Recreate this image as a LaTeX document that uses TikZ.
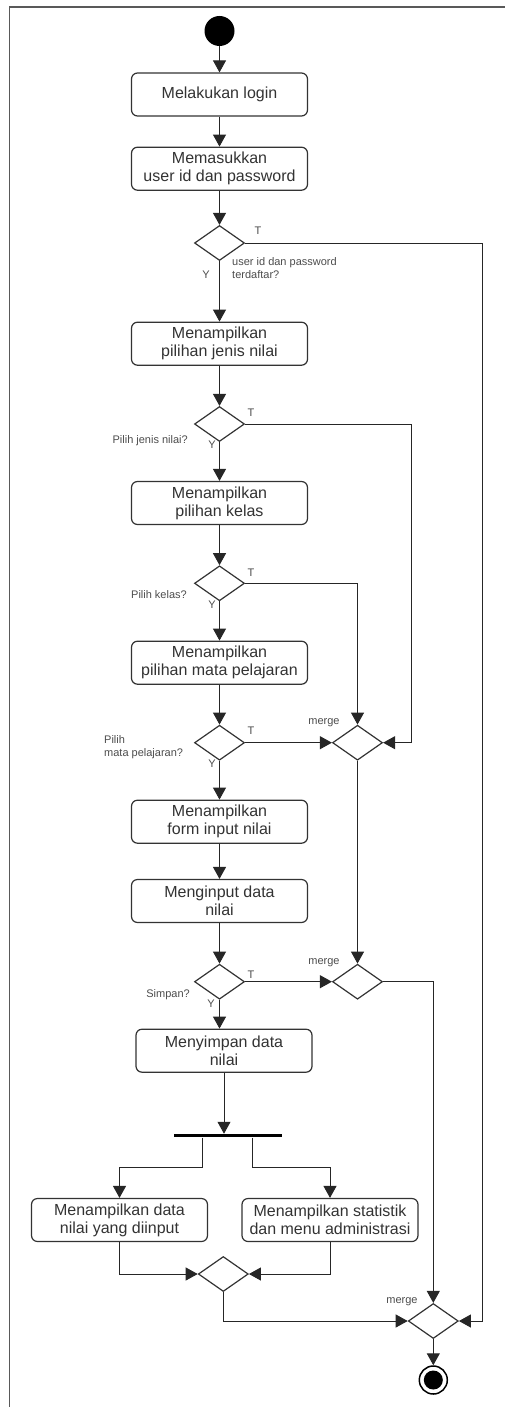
\documentclass[tikz,border=0pt]{standalone}
\usepackage{fontspec}
\setmainfont{Liberation Sans}
\usetikzlibrary{shapes.geometric,arrows.meta}

\begin{document}
\begin{tikzpicture}[x=1pt,y=-1pt,
  flow/.style={draw=black!85, line width=1pt, -{Triangle[length=12pt,width=13pt]}},
  link/.style={draw=black!85, line width=1pt},
  act/.style={draw=black!80, line width=1.2pt, rounded corners=6pt, fill=white,
    minimum width=176pt, minimum height=43pt, align=center, inner sep=2pt,
    text=black!80, font=\fontsize{16}{18}\selectfont},
  dec/.style={diamond, draw=black!80, line width=1.2pt, fill=white,
    minimum width=50pt, minimum height=35pt, inner sep=0pt},
  lbl/.style={font=\fontsize{11}{13}\selectfont, text=black!70, inner sep=0pt},
  frame/.style={draw=black!65, line width=1.8pt}
]
\useasboundingbox (0,0) rectangle (505,1407);

% outer frame (left and top edges)
\draw[frame] (9.5,1407) -- (9.5,7) -- (505,7);

% initial node
\node[circle, fill=black, minimum size=30pt, inner sep=0pt] (start) at (219.5,31) {};

% main column
\node[act] (b1) at (219.5,94.5) {Melakukan login};
\node[act] (b2) at (219.5,168.7) {Memasukkan\\user id dan password};
\node[dec] (d1) at (219.5,243) {};
\node[act] (b3) at (219.5,343.7) {Menampilkan\\pilihan jenis nilai};
\node[dec] (d2) at (219.5,424) {};
\node[act] (b4) at (219.5,503) {Menampilkan\\pilihan kelas};
\node[dec] (d3) at (219.5,583.3) {};
\node[act] (b5) at (219.5,662.7) {Menampilkan\\pilihan mata pelajaran};
\node[dec] (d4) at (219.5,742.7) {};
\node[act] (b6) at (219.5,821.7) {Menampilkan\\form input nilai};
\node[act] (b7) at (219.5,901) {Menginput data\\nilai};
\node[dec] (d5) at (219.5,981.7) {};
\node[act] (b8) at (224,1050.7) {Menyimpan data\\nilai};

% merge nodes
\node[dec] (m1) at (357.5,742.7) {};
\node[dec] (m2) at (357.5,981.7) {};
\node[dec] (m3) at (433.3,1321) {};

% fork bar
\node[fill=black, minimum width=108pt, minimum height=3.5pt, inner sep=0pt] (fork) at (228,1135.7) {};

% parallel activities and join
\node[act] (b9) at (119.5,1220) {Menampilkan data\\nilai yang diinput};
\node[act] (b10) at (330,1220) {Menampilkan statistik\\dan menu administrasi};
\node[dec] (j) at (223.3,1274) {};

% final node
\node[circle, draw=black, line width=1.5pt, minimum size=28pt, inner sep=0pt] (end) at (433.3,1380) {};
\node[circle, fill=black, minimum size=19pt, inner sep=0pt] (endcore) at (end.center) {};

% routing points
\coordinate (r1) at (482.7,0);
\coordinate (r2) at (411.7,0);
\coordinate (fl) at (202.7,1167.7);
\coordinate (fr) at (252.3,1167.7);

% main flow
\draw[flow] (start) -- (b1);
\draw[flow] (b1) -- (b2);
\draw[flow] (b2) -- (d1);
\draw[flow] (d1) -- (b3);
\draw[flow] (b3) -- (d2);
\draw[flow] (d2) -- (b4);
\draw[flow] (b4) -- (d3);
\draw[flow] (d3) -- (b5);
\draw[flow] (b5) -- (d4);
\draw[flow] (d4) -- (b6);
\draw[flow] (b6) -- (b7);
\draw[flow] (b7) -- (d5);
\draw[flow] (d5.south) -- (d5.south |- b8.north);
\draw[flow] (b8.south) -- (b8.south |- fork.north);

% "T" branches
\draw[flow] (d1.east) -- (d1.east -| r1) -- (r1 |- m3.east) -- (m3.east);
\draw[flow] (d2.east) -- (d2.east -| r2) -- (r2 |- m1.east) -- (m1.east);
\draw[flow] (d3.east) -- (d3.east -| m1.north) -- (m1.north);
\draw[flow] (d4.east) -- (m1.west);
\draw[flow] (m1.south) -- (m2.north);
\draw[flow] (d5.east) -- (m2.west);
\draw[flow] (m2.east) -- (m2.east -| m3.north) -- (m3.north);

% fork and join
\draw[flow] (fl |- fork.south) -- (fl) -- (fl -| b9.north) -- (b9.north);
\draw[flow] (fr |- fork.south) -- (fr) -- (fr -| b10.north) -- (b10.north);
\draw[flow] (b9.south) -- (b9.south |- j.west) -- (j.west);
\draw[flow] (b10.south) -- (b10.south |- j.east) -- (j.east);
\draw[flow] (j.south) -- (j.south |- m3.west) -- (m3.west);
\draw[flow] (m3.south) -- (end.north);

% guard labels
\node[lbl] (t1) at (258,231) {T};
\node[lbl] (t2) at (251,413) {T};
\node[lbl] (t3) at (251,573) {T};
\node[lbl] (t4) at (251,731) {T};
\node[lbl] (t5) at (251,975) {T};
\node[lbl] (y1) at (206,275) {Y};
\node[lbl] (y2) at (212,445) {Y};
\node[lbl] (y3) at (212,605) {Y};
\node[lbl] (y4) at (212,764) {Y};
\node[lbl] (y5) at (211,1004) {Y};

% decision questions
\node[lbl, anchor=west, align=left] (q1) at (232,268.5) {user id dan password\\terdaftar?};
\node[lbl, anchor=east] (q2) at (188,441) {Pilih jenis nilai?};
\node[lbl, anchor=east] (q3) at (187,594.3) {Pilih kelas?};
\node[lbl, anchor=west, align=left] (q4) at (104,747.5) {Pilih\\mata pelajaran?};
\node[lbl, anchor=east] (q5) at (190,995) {Simpan?};

% merge labels
\node[lbl] (ml1) at (324,723) {merge};
\node[lbl] (ml2) at (324,962.3) {merge};
\node[lbl] (ml3) at (402,1301.7) {merge};
\end{tikzpicture}
\end{document}
